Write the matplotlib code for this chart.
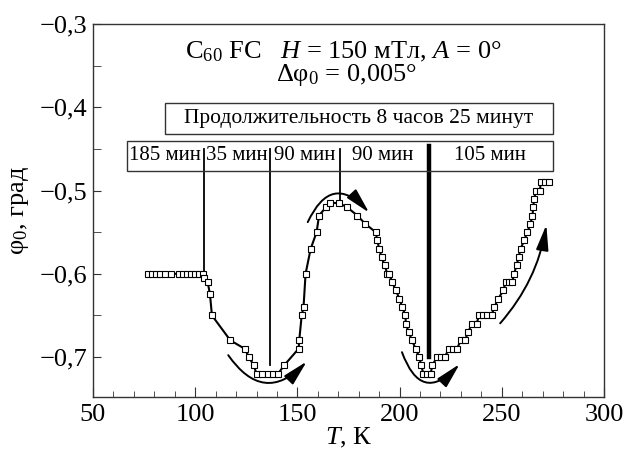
import matplotlib
matplotlib.use("Agg")
import matplotlib.pyplot as plt
from matplotlib.patches import FancyArrowPatch, Rectangle
from matplotlib.ticker import MultipleLocator, FuncFormatter

plt.rcParams["font.family"] = ["Liberation Serif", "DejaVu Serif"]
plt.rcParams["mathtext.fontset"] = "custom"
plt.rcParams["mathtext.rm"] = "Liberation Serif"
plt.rcParams["mathtext.it"] = "Liberation Serif:italic"

# measured points: temperature (K) and phi0 (deg)
T = [77, 79, 81, 83, 85, 88, 92, 94, 96, 98, 100, 102, 104,
     104.4, 106.1, 107.2, 108.2, 117.2, 124.2, 126.3, 128.6, 130,
     132.8, 135.4, 138.2, 140.6, 143.5, 150.6, 150.9, 152.1, 153.0, 154,
     156.5, 159.4, 160.6, 164, 166.1, 170.2, 174.3, 179.3, 183.2, 188.3,
     189.1, 190.0, 191.2, 192.7, 194, 195, 196.3, 198.2, 199.9,
     201.3, 202.8, 203.1, 204.4, 206.1, 207.8, 209.6, 210.6,
     211.6, 213.4, 215.2, 216, 218.3, 220.3, 222.2, 224, 226.1, 228.1,
     229.9, 232, 233.5, 235.4, 237.7, 238.8, 240.9, 242.9, 245.0,
     246.3, 248.3, 250.7, 251.9, 253.6, 255.1, 256, 257.2, 258.2, 259.2,
     260.9, 262.5, 264, 265, 265.4, 265.8, 266.7, 268.7, 269, 271, 272.9]
phi = [-0.60, -0.60, -0.60, -0.60, -0.60, -0.60, -0.60, -0.60, -0.60, -0.60, -0.60, -0.60, -0.60,
       -0.605, -0.61, -0.624, -0.65, -0.68, -0.69, -0.70, -0.71, -0.72,
       -0.72, -0.72, -0.72, -0.72, -0.71, -0.69, -0.68, -0.65, -0.64, -0.60,
       -0.57, -0.55, -0.53, -0.52, -0.515, -0.515, -0.52, -0.53, -0.54, -0.55,
       -0.56, -0.57, -0.58, -0.59, -0.60, -0.60, -0.61, -0.62, -0.63,
       -0.64, -0.65, -0.66, -0.67, -0.68, -0.69, -0.70, -0.71,
       -0.72, -0.72, -0.72, -0.71, -0.70, -0.70, -0.70, -0.69, -0.69, -0.69,
       -0.68, -0.68, -0.67, -0.66, -0.66, -0.65, -0.65, -0.65, -0.65,
       -0.64, -0.63, -0.62, -0.61, -0.61, -0.61, -0.60, -0.59, -0.58, -0.57,
       -0.56, -0.55, -0.54, -0.53, -0.52, -0.51, -0.50, -0.50, -0.49, -0.49, -0.49]

# stage boundaries (K) and where their markers end (phi)
bound_T = [104.3, 136.6, 170.8]
bound_end = [-0.599, -0.709, -0.515]
thick_T = 214.3
thick_end = -0.70

stage_labels = ["185 мин", "35 мин", "90 мин", "90 мин", "105 мин"]
stage_label_T = [85.2, 120.5, 153.7, 191.8, 244]

# curved arrows: start, end, curvature
arrows = [((115.4, -0.695), (155.5, -0.703), 0.63),
          ((154.5, -0.541), (186.0, -0.529), -0.78),
          ((200.7, -0.691), (230.3, -0.706), 0.85),
          ((248.3, -0.662), (272.0, -0.538), 0.15)]

fig = plt.figure(figsize=(6.36, 4.53), dpi=100)
ax = fig.add_axes([0.1462, 0.1236, 0.8035, 0.8234])

ax.plot(T, phi, "-", color="black", lw=1.5, marker="s", ms=4.5,
        mfc="white", mec="black", mew=0.8, zorder=3)

for bt, be in zip(bound_T, bound_end):
    ax.plot([bt, bt], [-0.450, be], color="black", lw=1.3, zorder=2)
ax.plot([thick_T, thick_T], [-0.446, thick_end], color="black", lw=3.2, zorder=2)

# boxes
ax.add_patch(Rectangle((85.2, -0.432), 275 - 85.2, 0.0372, fill=False,
                       ec="#333333", lw=1.0, zorder=4))
ax.text(180.1, -0.4135, "Продолжительность 8 часов 25 минут", ha="center",
        va="center", fontsize=15.5, zorder=5)
ax.add_patch(Rectangle((66.6, -0.4764), 275 - 66.6, 0.036, fill=False,
                       ec="#333333", lw=1.0, zorder=4))
for lab, lt in zip(stage_labels, stage_label_T):
    ax.text(lt, -0.4585, lab, ha="center", va="center", fontsize=15, zorder=5)

for (p0, p1, rad) in arrows:
    a = FancyArrowPatch(p0, p1, connectionstyle="arc3,rad=%s" % rad,
                        arrowstyle="-|>,head_length=1.1,head_width=0.27",
                        mutation_scale=14, color="black", lw=1.4, zorder=4)
    ax.add_patch(a)

ax.text(172.5, -0.3335, "C$_{60}$ FC   $H$ = 150 мТл, $A$ = 0°", ha="center",
        va="center", fontsize=19)
ax.text(174, -0.361, "Δφ$_0$ = 0,005°", ha="center", va="center", fontsize=19)

ax.set_xlim(50, 300)
ax.set_ylim(-0.748, -0.3)
ax.xaxis.set_major_locator(MultipleLocator(50))
ax.xaxis.set_minor_locator(MultipleLocator(10))
ax.yaxis.set_major_locator(MultipleLocator(0.1))
ax.yaxis.set_minor_locator(MultipleLocator(0.05))
ax.yaxis.set_major_formatter(FuncFormatter(lambda v, p: ("%.1f" % v).replace("-", "\u2212").replace(".", ",")))
ax.tick_params(which="both", direction="in", top=False, right=False,
               labelsize=19, color="#333333")
ax.tick_params(axis="x", which="major", length=7, pad=5)
ax.tick_params(axis="x", which="minor", length=4)
ax.tick_params(axis="y", which="both", length=6, pad=4)
for s in ax.spines.values():
    s.set_color("#333333")
    s.set_linewidth(1.0)

ax.set_xlabel("$T$, К", fontsize=19, labelpad=0)
ax.set_ylabel("φ$_0$, град", fontsize=19, labelpad=6)

fig.savefig("out.png", dpi=100)
